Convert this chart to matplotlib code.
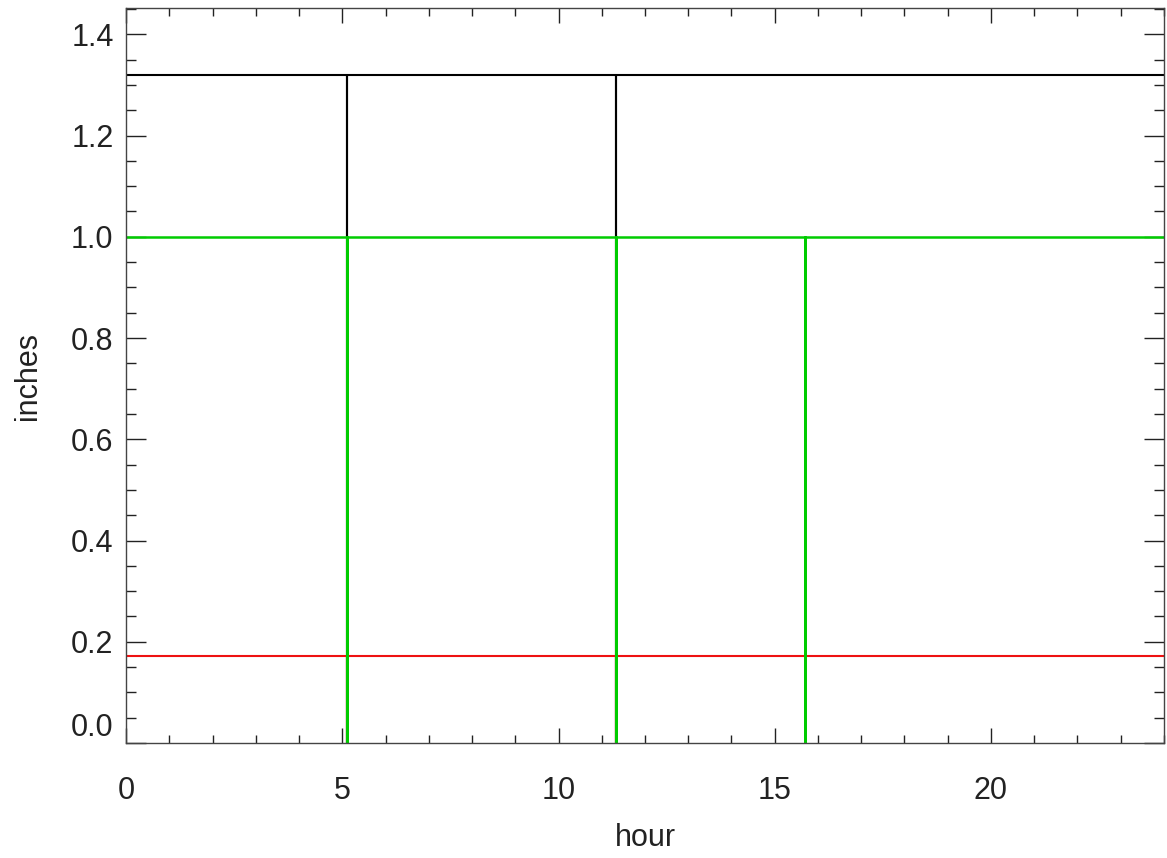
import matplotlib
matplotlib.use("Agg")
import matplotlib.pyplot as plt
from matplotlib.ticker import MultipleLocator

plt.rcParams['font.family'] = ['Liberation Sans', 'DejaVu Sans']

# series: each level drops to zero at a few hours
hours_black = [0.0, 5.1, 5.1, 5.1, 11.34, 11.34, 11.34, 24.0]
inches_black = [1.32, 1.32, 0.0, 1.32, 1.32, 0.0, 1.32, 1.32]

hours_red = [0.0, 5.1, 5.1, 5.1, 11.34, 11.34, 11.34, 24.0]
inches_red = [0.172, 0.172, 0.0, 0.172, 0.172, 0.0, 0.172, 0.172]

hours_green = [0.0, 5.1, 5.1, 5.1, 11.34, 11.34, 11.34, 15.7, 15.7, 15.7, 24.0]
inches_green = [1.0, 1.0, 0.0, 1.0, 1.0, 0.0, 1.0, 1.0, 0.0, 1.0, 1.0]

x_ticks = [0, 5, 10, 15, 20]
y_ticks = [0.0, 0.2, 0.4, 0.6, 0.8, 1.0, 1.2, 1.4]

fig = plt.figure(figsize=(11.67, 8.58), dpi=100)
ax = fig.add_axes([0.108, 0.134, 0.8894, 0.8567])

ax.plot(hours_black, inches_black, color='black', lw=1.5)
ax.plot(hours_red, inches_red, color='#ee1111', lw=1.5)
ax.plot(hours_green, inches_green, color='#00cc00', lw=1.8)

ax.set_xlim(0, 24)
ax.set_ylim(0, 1.452)
ax.set_xticks(x_ticks)
ax.set_yticks(y_ticks)
ax.set_yticklabels(['%.1f' % v for v in y_ticks])
ax.xaxis.set_minor_locator(MultipleLocator(1))
ax.yaxis.set_minor_locator(MultipleLocator(0.05))

ax.tick_params(axis='both', which='both', direction='in', top=True, right=True,
               labelsize=22, colors='#222222')
ax.tick_params(axis='x', which='major', length=11, width=1, pad=24)
ax.tick_params(axis='x', which='minor', length=6, width=1)
ax.tick_params(axis='y', which='major', length=14.5, width=1, pad=9)
ax.tick_params(axis='y', which='minor', length=7, width=1)
for s in ax.spines.values():
    s.set_color('#444444')
    s.set_linewidth(1)

ax.get_yticklabels()[0].set_verticalalignment('bottom')

ax.set_xlabel('hour', fontsize=22, color='#222222', labelpad=12)
ax.set_ylabel('inches', fontsize=22, color='#222222', labelpad=20)

fig.savefig('out.png', dpi=100)
